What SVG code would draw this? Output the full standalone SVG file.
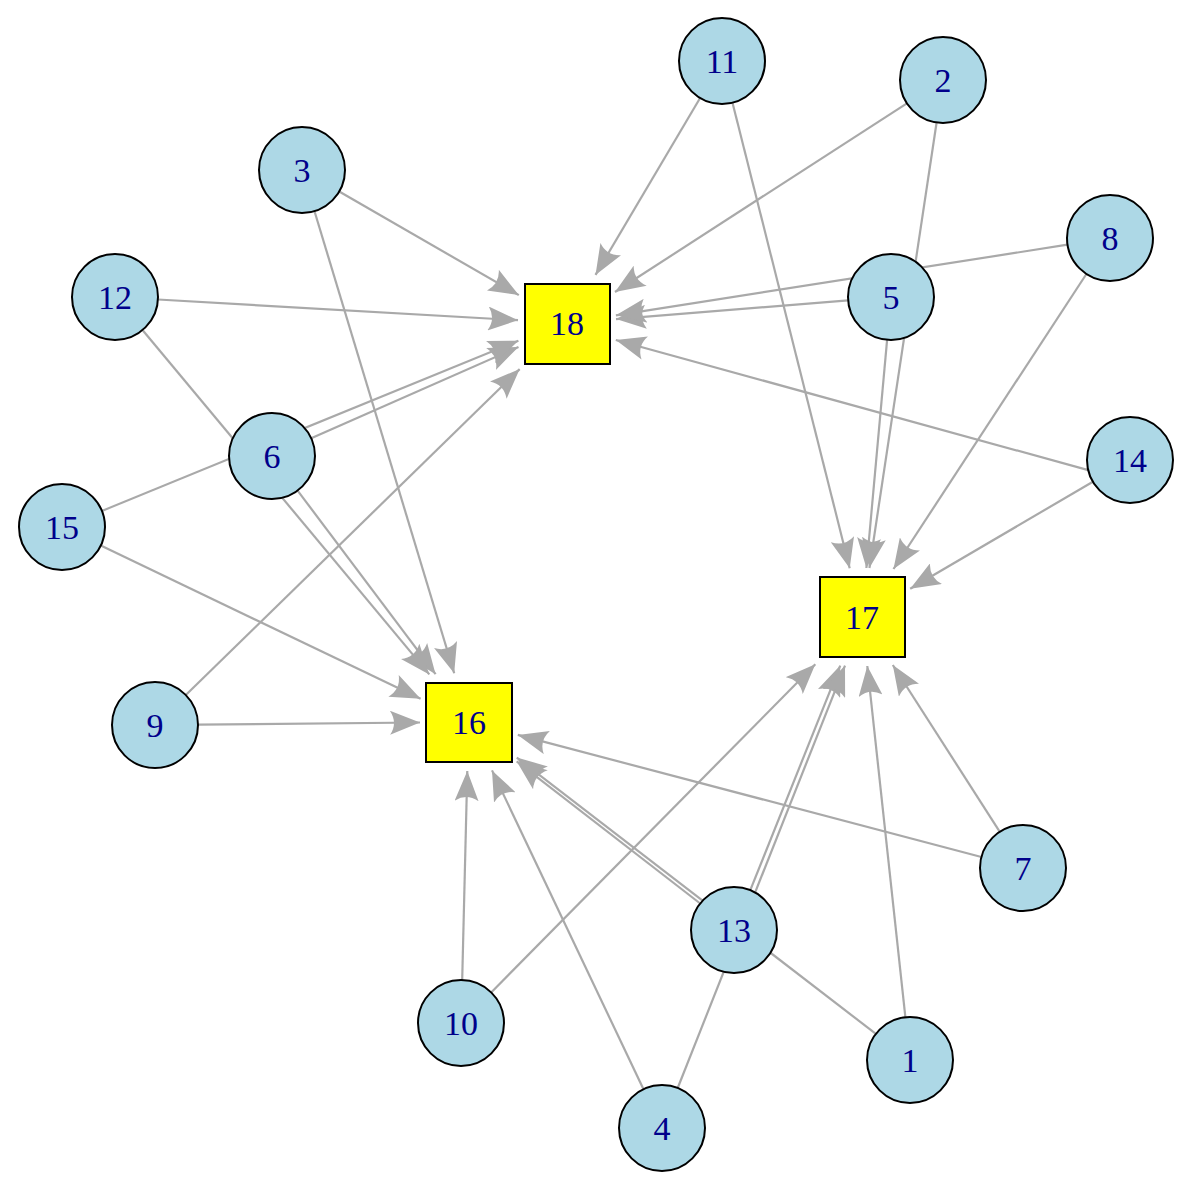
<svg xmlns="http://www.w3.org/2000/svg" width="1200" height="1188" viewBox="0 0 1200 1188">
<style>
.e{stroke:#A9A9A9;stroke-width:2.2;fill:none;marker-end:url(#a)}
.c{fill:#ADD8E6;stroke:#000;stroke-width:2}
.s{fill:#FFFF00;stroke:#000;stroke-width:2}
text{font-family:"Liberation Serif",serif;font-size:34px;fill:#00008B;text-anchor:middle;dominant-baseline:central}
</style>
<defs><marker id="a" markerUnits="userSpaceOnUse" markerWidth="32" markerHeight="24" viewBox="0 0 32 24" refX="30" refY="12" orient="auto"><path d="M0,0 L30,12 L0,24 Q8,12 0,0 z" fill="#A9A9A9"/></marker></defs>
<rect width="1200" height="1188" fill="#fff"/>
<g id="edges">
<line class="e" x1="700.1" y1="98" x2="595.5" y2="274.9"/>
<line class="e" x1="906.9" y1="103.3" x2="615" y2="292"/>
<line class="e" x1="339.2" y1="191.5" x2="518.8" y2="295.1"/>
<line class="e" x1="157.9" y1="299.5" x2="518" y2="320.2"/>
<line class="e" x1="848.1" y1="300.4" x2="616" y2="319.1"/>
<line class="e" x1="1067.5" y1="244.7" x2="615.9" y2="315.3"/>
<line class="e" x1="1088.2" y1="470.1" x2="615.8" y2="340"/>
<line class="e" x1="311.2" y1="438.3" x2="518.5" y2="346.9"/>
<line class="e" x1="101.9" y1="510.9" x2="518.4" y2="340.7"/>
<line class="e" x1="185.8" y1="695" x2="519.7" y2="369.1"/>
<line class="e" x1="732.5" y1="102.7" x2="849.7" y2="568.2"/>
<line class="e" x1="936.6" y1="122.5" x2="869.4" y2="568"/>
<line class="e" x1="887.1" y1="339.8" x2="866.4" y2="568"/>
<line class="e" x1="1086.4" y1="274" x2="893.5" y2="569"/>
<line class="e" x1="1092.9" y1="481.7" x2="910.2" y2="588.8"/>
<line class="e" x1="491.2" y1="992.4" x2="815.3" y2="664.3"/>
<line class="e" x1="750.3" y1="890.2" x2="840.2" y2="665.6"/>
<line class="e" x1="677.7" y1="1088" x2="845" y2="665.6"/>
<line class="e" x1="905.4" y1="1017.3" x2="867.3" y2="666"/>
<line class="e" x1="999.8" y1="831.8" x2="892.8" y2="665"/>
<line class="e" x1="314.5" y1="211.2" x2="454.2" y2="673.3"/>
<line class="e" x1="297.6" y1="490.6" x2="435.6" y2="674.2"/>
<line class="e" x1="142.5" y1="330" x2="429.3" y2="674.4"/>
<line class="e" x1="100.8" y1="545.6" x2="420.6" y2="698.8"/>
<line class="e" x1="198" y1="724.6" x2="420" y2="722.5"/>
<line class="e" x1="462.2" y1="980" x2="467.3" y2="771"/>
<line class="e" x1="643.5" y1="1089.2" x2="492" y2="770.4"/>
<line class="e" x1="700.2" y1="903.5" x2="516.7" y2="761.4"/>
<line class="e" x1="875.9" y1="1033.9" x2="516.8" y2="757.6"/>
<line class="e" x1="981.4" y1="857" x2="517.8" y2="734.9"/>
</g>
<g id="n1"><circle class="c" cx="910" cy="1060" r="43"/><text x="910" y="1060">1</text></g>
<g id="n2"><circle class="c" cx="943" cy="80" r="43"/><text x="943" y="80">2</text></g>
<g id="n3"><circle class="c" cx="302" cy="170" r="43"/><text x="302" y="170">3</text></g>
<g id="n4"><circle class="c" cx="662" cy="1128" r="43"/><text x="662" y="1128">4</text></g>
<g id="n5"><circle class="c" cx="891" cy="297" r="43"/><text x="891" y="297">5</text></g>
<g id="n6"><circle class="c" cx="272" cy="456" r="43"/><text x="272" y="456">6</text></g>
<g id="n7"><circle class="c" cx="1023" cy="868" r="43"/><text x="1023" y="868">7</text></g>
<g id="n8"><circle class="c" cx="1110" cy="238" r="43"/><text x="1110" y="238">8</text></g>
<g id="n9"><circle class="c" cx="155" cy="725" r="43"/><text x="155" y="725">9</text></g>
<g id="n10"><circle class="c" cx="461" cy="1023" r="43"/><text x="461" y="1023">10</text></g>
<g id="n11"><circle class="c" cx="722" cy="61" r="43"/><text x="722" y="61">11</text></g>
<g id="n12"><circle class="c" cx="115" cy="297" r="43"/><text x="115" y="297">12</text></g>
<g id="n13"><circle class="c" cx="734" cy="930" r="43"/><text x="734" y="930">13</text></g>
<g id="n14"><circle class="c" cx="1130" cy="460" r="43"/><text x="1130" y="460">14</text></g>
<g id="n15"><circle class="c" cx="62" cy="527" r="43"/><text x="62" y="527">15</text></g>
<g id="n16"><rect class="s" x="426" y="683" width="86" height="79"/><text x="469" y="722">16</text></g>
<g id="n17"><rect class="s" x="820" y="577" width="85" height="80"/><text x="862" y="617">17</text></g>
<g id="n18"><rect class="s" x="525" y="284" width="85" height="80"/><text x="567" y="323">18</text></g>
</svg>
